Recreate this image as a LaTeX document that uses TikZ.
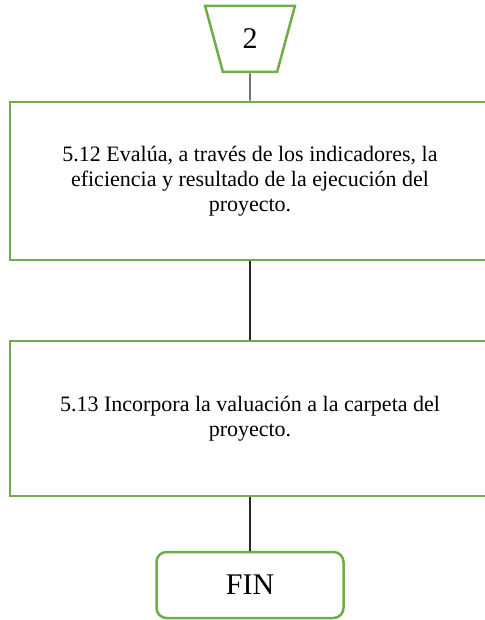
\documentclass[tikz,border=0pt]{standalone}
\usepackage{fontspec}
\setmainfont{Liberation Serif}
\usepackage{xcolor}
\usetikzlibrary{shapes.geometric}
\definecolor{officegreen}{RGB}{112, 173, 71}
\definecolor{linegray}{RGB}{40, 40, 40}

\begin{document}
\begin{tikzpicture}[x=1pt, y=-1pt,
            step box/.style = {
                draw=officegreen,
                line width=2.5pt,
                text=black,
                minimum width=480pt,
                align=center,
                font=\fontsize{22}{25}\selectfont,
                },
            connector/.style = {
                draw=linegray,
                line width=1.2pt,
                }]
            \useasboundingbox (0,0) rectangle (484,620);
            \node[draw=officegreen, line width=2.5pt, trapezium, trapezium stretches=true,
                  shape border rotate=180, trapezium angle=75,
                  minimum width=90pt, minimum height=66pt,
                  font=\fontsize{30}{34}\selectfont] (off2) at (250,39) {2};
            \node[step box, minimum height=158pt] (s512) at (250,181)
                {5.12 Evalúa, a través de los indicadores, la\\
                 eficiencia y resultado de la ejecución del\\
                 proyecto.};
            \node[step box, minimum height=155pt] (s513) at (250,418.5)
                {5.13 Incorpora la valuación a la carpeta del\\
                 proyecto.};
            \node[draw=officegreen, line width=2.5pt, rounded corners=10pt,
                  minimum width=187pt, minimum height=66pt,
                  font=\fontsize{30}{34}\selectfont] (fin) at (250,585) {FIN};
            \draw[connector] (off2) -- (s512);
            \draw[connector] (s512) -- (s513);
            \draw[connector] (s513) -- (fin);
        \end{tikzpicture}
\end{document}
